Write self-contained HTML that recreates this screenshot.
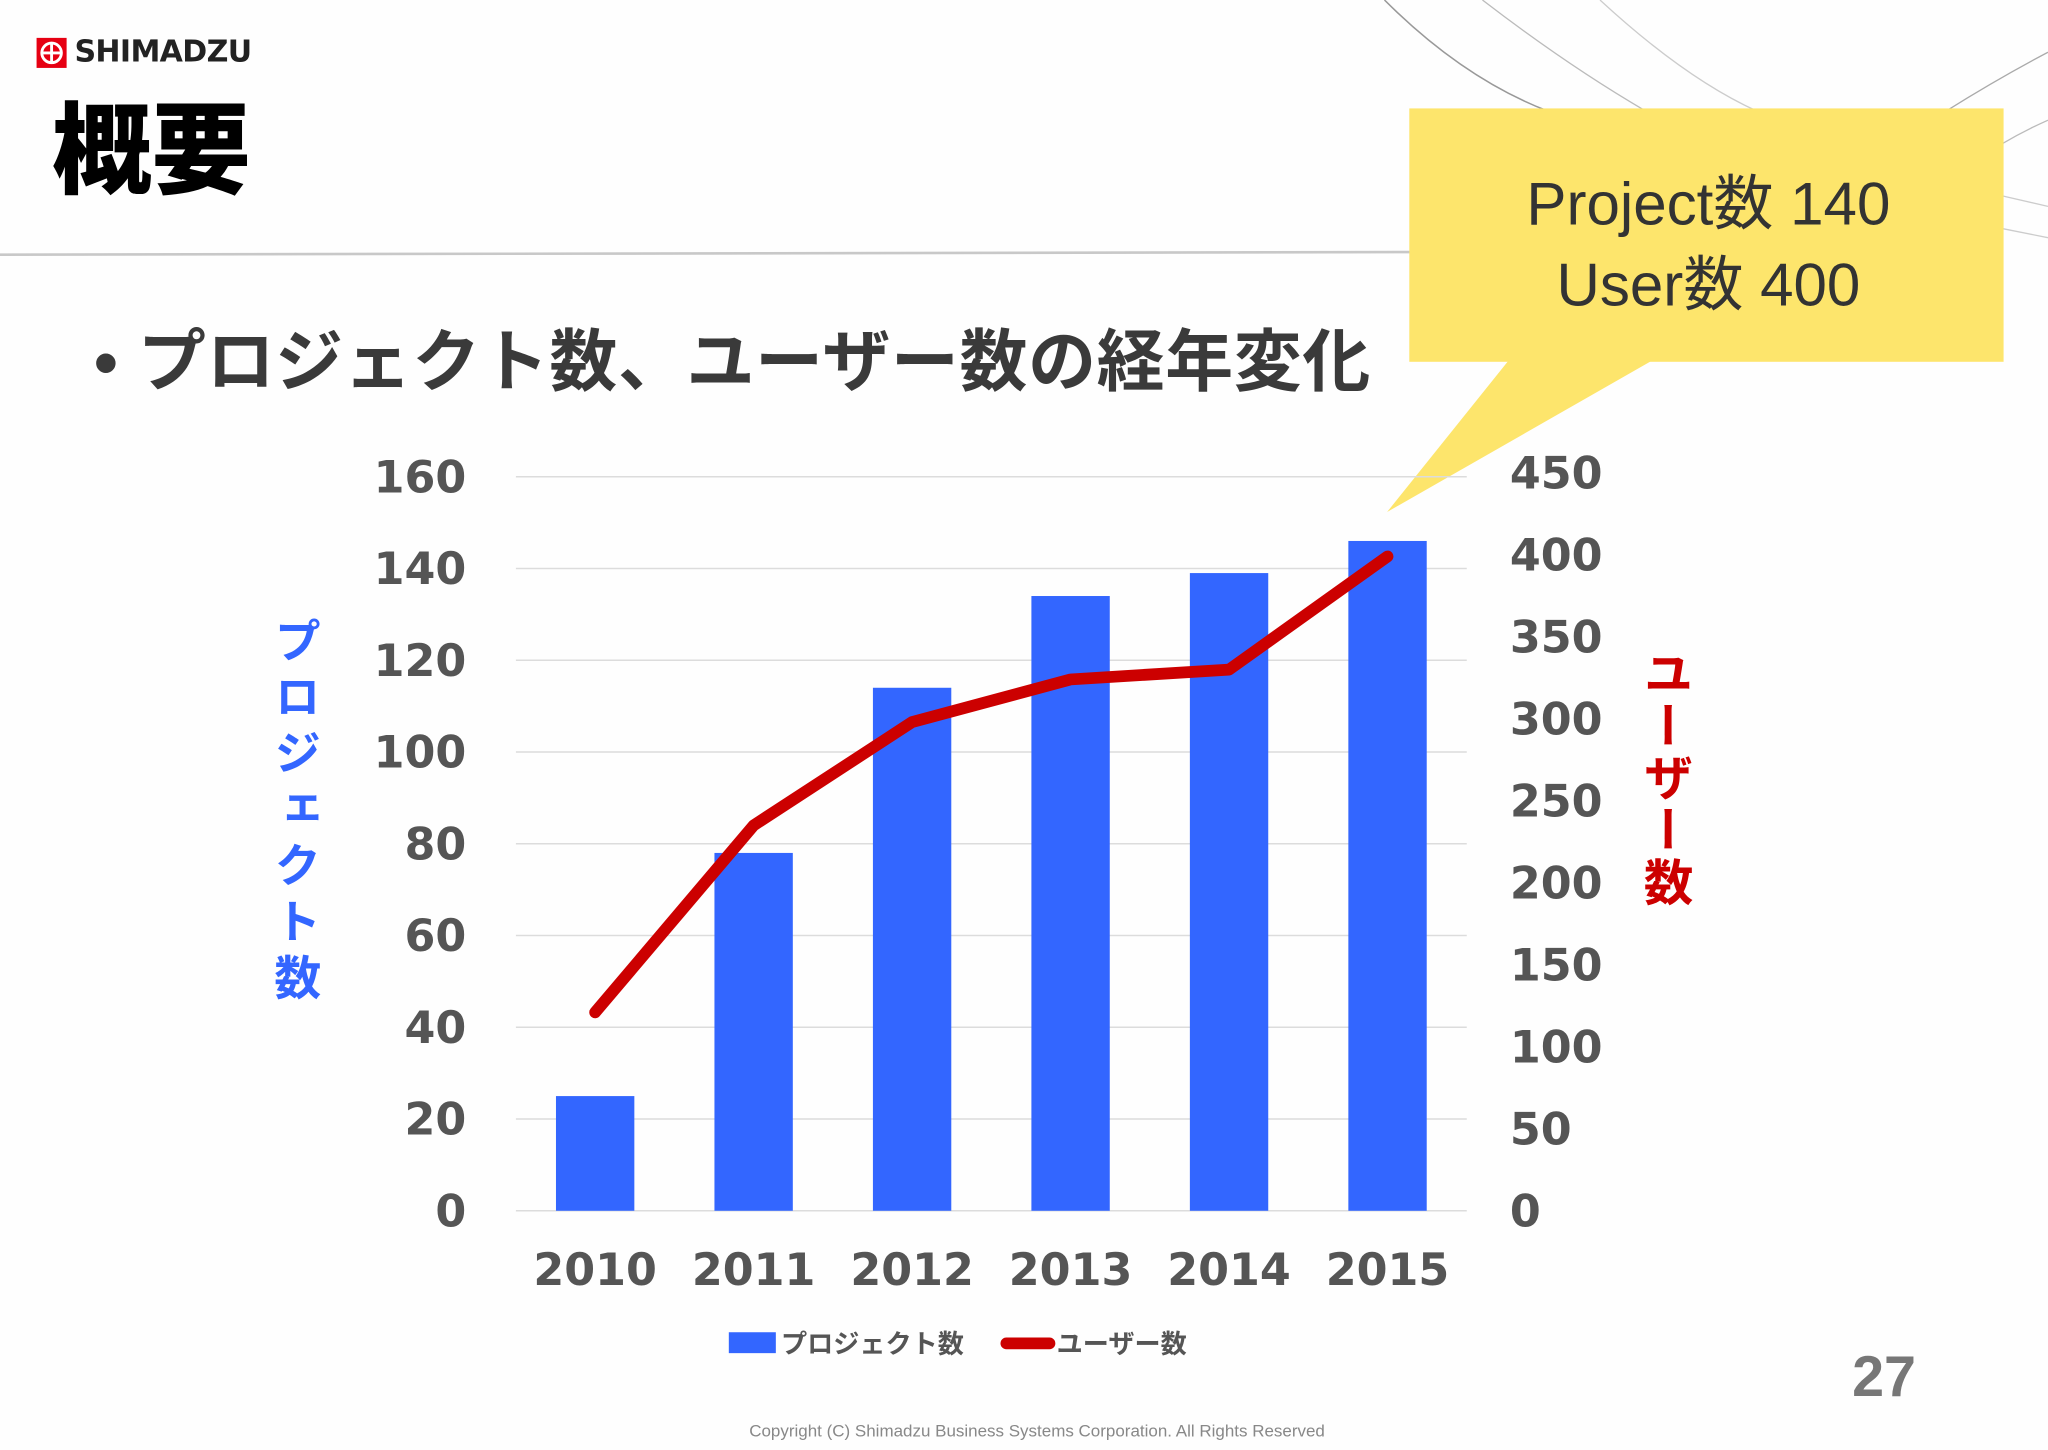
<!DOCTYPE html>
<html><head><meta charset="utf-8">
<style>
html,body{margin:0;padding:0;background:#fff;}
body{width:2048px;height:1448px;overflow:hidden;position:relative;}
#stage{position:absolute;left:0;top:0;width:1568px;height:1110px;transform:scale(1.30612);transform-origin:0 0;background:#fefefe;font-family:"Liberation Sans","Noto Sans CJK JP",sans-serif;}
.abs{position:absolute;}
.vt{writing-mode:vertical-rl;text-orientation:upright;}
</style></head>
<body>
<div id="stage">
<svg class="abs" style="left:0;top:0" width="1568" height="1110">
  <path d="M1060 0 Q1120 60 1185 85" stroke="#999" stroke-width="1.2" fill="none"/>
  <path d="M1135 0 Q1200 50 1260 85" stroke="#bbb" stroke-width="1" fill="none"/>
  <path d="M1225 0 Q1290 60 1345 85" stroke="#ccc" stroke-width="1" fill="none"/>
  <path d="M1490 85 Q1530 60 1568 40" stroke="#aaa" stroke-width="1" fill="none"/>
  <path d="M1533 110 Q1550 100 1568 92" stroke="#bbb" stroke-width="1" fill="none"/>
  <path d="M1533 150 L1568 158" stroke="#ccc" stroke-width="1" fill="none"/>
  <path d="M1533 175 L1568 182" stroke="#ccc" stroke-width="1" fill="none"/>
  <line x1="0" y1="195" x2="1080" y2="193" stroke="#c8c8c8" stroke-width="2"/>
</svg>
<div class="abs" style="left:28px;top:29px;width:23px;height:23px;background:#e60012;">
  <svg width="23" height="23"><circle cx="11.5" cy="11.5" r="7.5" stroke="#fff" stroke-width="2.2" fill="none"/><line x1="11.5" y1="4" x2="11.5" y2="19" stroke="#fff" stroke-width="2.2"/><line x1="4" y1="11.5" x2="19" y2="11.5" stroke="#fff" stroke-width="2.2"/></svg>
</div>
<div class="abs" style="left:57px;top:27px;font-size:23px;font-weight:bold;color:#222;font-family:'DejaVu Sans',sans-serif;letter-spacing:-0.5px">SHIMADZU</div>
<div class="abs" style="left:40px;top:72px;font-size:76px;font-weight:900;color:#000;line-height:90px">概要</div>
<div class="abs" style="left:72px;top:246px;font-size:52px;font-weight:bold;color:#3a3a3a;line-height:64px;white-space:nowrap;letter-spacing:0.5px">• プロジェクト数、ユーザー数の経年変化</div>

<svg class="abs" style="left:0;top:0" width="1568" height="1110">
  <rect x="1079" y="83" width="455" height="194" fill="#fde56c"/>
  <polygon points="1155,276 1265,276 1062,392" fill="#fde56c"/>
  <text x="1308" y="172" text-anchor="middle" font-size="46" fill="#333" font-family="Liberation Sans, Noto Sans CJK JP, sans-serif">Project数 140</text>
  <text x="1308" y="234" text-anchor="middle" font-size="46" fill="#333" font-family="Liberation Sans, Noto Sans CJK JP, sans-serif">User数  400</text>
</svg>

<svg id="chart" class="abs" style="left:0;top:0" width="1568" height="1110"></svg>

<div class="abs vt" style="left:203px;top:472px;font-size:36px;font-weight:bold;color:#3366ff;letter-spacing:7px;line-height:44px">プロジェクト数</div>
<div class="abs" style="left:1251px;top:496px;font-size:38px;font-weight:bold;color:#cc0000;writing-mode:vertical-rl;line-height:44px;letter-spacing:2px">ユーザー数</div>

<div class="abs" style="left:558px;top:1020px;width:36px;height:16px;background:#3366ff"></div>
<div class="abs" style="left:598px;top:1013px;font-size:20px;font-weight:bold;color:#555">プロジェクト数</div>
<div class="abs" style="left:766px;top:1024px;width:42px;height:9px;border-radius:5px;background:#cc0000"></div>
<div class="abs" style="left:809px;top:1013px;font-size:20px;font-weight:bold;color:#555">ユーザー数</div>

<div class="abs" style="left:1418px;top:1030px;font-size:44px;font-weight:bold;color:#777">27</div>
<div class="abs" style="left:0;width:1588px;top:1088px;text-align:center;font-size:13px;color:#888">Copyright (C) Shimadzu Business Systems Corporation. All Rights Reserved</div>
</div>
<script>
const years = ["2010","2011","2012","2013","2014","2015"];
const projects = [25, 78, 114, 134, 139, 146];
const users = [121, 235, 298, 324, 330, 399];
const leftTicks = [0,20,40,60,80,100,120,140,160];
const rightTicks = [0,50,100,150,200,250,300,350,400,450];

const NS = "http://www.w3.org/2000/svg";
const svg = document.getElementById("chart");
const x0 = 395, x1 = 1123, yBase = 927, yTopL = 365, yTopR = 362;
const yL = v => yBase - v / 160 * (yBase - yTopL);
const yR = v => yBase - v / 450 * (yBase - yTopR);
const step = (x1 - x0) / years.length;
const xC = i => x0 + step * (i + 0.5);
const FONT = "DejaVu Sans, Liberation Sans, sans-serif";
function mk(tag, attrs){const e=document.createElementNS(NS,tag);for(const k in attrs)e.setAttribute(k,attrs[k]);svg.appendChild(e);return e;}

leftTicks.forEach(t=>{
  const g = mk("line",{x1:x0,x2:x1,y1:yL(t),y2:yL(t),stroke:"#dcdcdc","stroke-width":1.2});
  
  
  const tx = mk("text",{x:357,y:yL(t)+12,"text-anchor":"end","font-size":34,"font-weight":"bold",fill:"#555","font-family":FONT});
  tx.textContent = t;
  
  
});
rightTicks.forEach(t=>{
  const tx = mk("text",{x:1156,y:yR(t)+12,"font-size":34,"font-weight":"bold",fill:"#555","font-family":FONT});
  tx.textContent = t;
  
  
});
projects.forEach((v,i)=>{
  const r = mk("rect",{x:xC(i)-30,y:yL(v),width:60,height:yBase-yL(v),fill:"#3366ff"});
  
  
});
years.forEach((y,i)=>{
  const tx = mk("text",{x:xC(i),y:984,"text-anchor":"middle","font-size":34,"font-weight":"bold",fill:"#555","font-family":FONT});
  tx.textContent = y;
  
  
});
const pl = mk("polyline",{points:users.map((v,i)=>xC(i)+","+yR(v)).join(" "),fill:"none",stroke:"#cc0000","stroke-width":9,"stroke-linecap":"round","stroke-linejoin":"round"});


</script>
</body></html>
